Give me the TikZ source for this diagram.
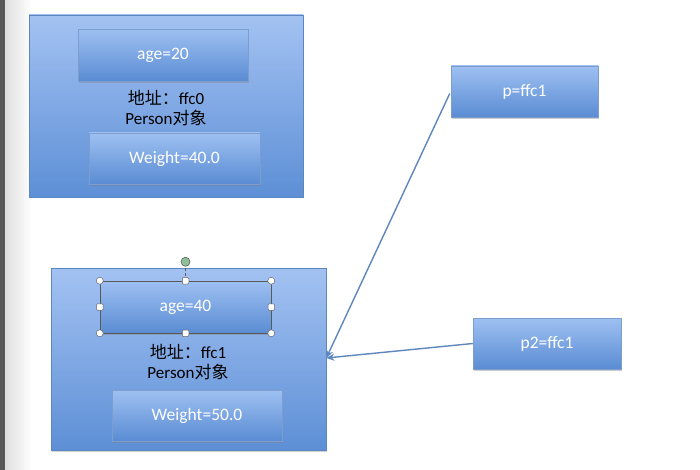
\documentclass[tikz,border=0pt]{standalone}
\usepackage{fontspec}
\setmainfont{Carlito}
\newfontfamily\cjk{Noto Sans CJK SC}
\usetikzlibrary{shadows,arrows.meta}
\definecolor{btop}{HTML}{A3C2F2}
\definecolor{bbot}{HTML}{5D8FD6}
\definecolor{bedge}{HTML}{5C86C0}
\definecolor{ltop}{HTML}{9EC0F2}
\definecolor{lbot}{HTML}{5A8CD3}
\definecolor{arrowc}{HTML}{5E87BE}
\definecolor{grip}{HTML}{8FBF9A}
\tikzset{
  outerbox/.style={draw=bedge, line width=0.6pt, top color=btop, bottom color=bbot, drop shadow={shadow xshift=1pt, shadow yshift=-1.5pt, opacity=0.35}},
  innerbox/.style={draw=bedge!80, line width=0.5pt, top color=ltop, bottom color=lbot, drop shadow={shadow xshift=0.5pt, shadow yshift=-2pt, opacity=0.4}, text=white, font=\fontsize{17.5}{20}\selectfont},
  midtext/.style={align=center, font=\fontsize{17}{20}\selectfont, text=black, inner sep=0pt},
  conn/.style={draw=arrowc, line width=1.4pt, -{Stealth[length=8pt,width=7pt]}},
  handlec/.style={circle, draw=gray!80!black, fill=white, inner sep=0pt, minimum size=7pt, line width=0.5pt},
  handles/.style={rectangle, draw=gray!80!black, fill=white, inner sep=0pt, minimum size=6.5pt, line width=0.5pt, rounded corners=1pt},
}
\begin{document}
\begin{tikzpicture}[x=1pt,y=-1pt]
\useasboundingbox (0,0) rectangle (700,470);
\fill[white] (0,0) rectangle (700,470);
% window edge
\shade[left color=gray!25, right color=white] (5,0) rectangle (32,470);
\fill[gray!70!black] (0,0) rectangle (5,470);
% top object
\node[outerbox, minimum width=274pt, minimum height=182pt, inner sep=0pt] (obj1) at (166,106) {};
\node[innerbox, minimum width=170pt, minimum height=52pt, inner sep=0pt] (age1) at (163,55) {age=20};
\node[midtext] (addr1) at (166,108) {{\cjk 地址：}ffc0\\Person{\cjk 对象}};
\node[innerbox, minimum width=171pt, minimum height=51pt, inner sep=0pt] (w1) at (174.5,158.5) {Weight=40.0};
% bottom object
\node[outerbox, minimum width=275pt, minimum height=182pt, inner sep=0pt] (obj2) at (188.5,359) {};
\node[innerbox, minimum width=171pt, minimum height=52pt, inner sep=0pt] (age2) at (185.5,307) {age=40};
\node[midtext] (addr2) at (188,362) {{\cjk 地址：}ffc1\\Person{\cjk 对象}};
\node[innerbox, minimum width=170pt, minimum height=51pt, inner sep=0pt] (w2) at (197,415.5) {Weight=50.0};
% selection handles
\draw[gray!70!black, line width=0.5pt] (age2.north west) rectangle (age2.south east);
\draw[gray!70!black, densely dashed, line width=0.5pt] (age2.north) -- ++(0,-19) coordinate (gtop);
\node[circle, draw=gray!60!black, fill=grip, inner sep=0pt, minimum size=9pt, line width=0.5pt] (rot) at (gtop) {};
\foreach \a in {north west, north east, south west, south east} \node[handlec] at (age2.\a) {};
\foreach \a in {north, south, west, east} \node[handles] at (age2.\a) {};
% references
\node[innerbox, minimum width=147pt, minimum height=51pt, inner sep=0pt] (p) at (524.5,91.5) {p=ffc1};
\node[innerbox, minimum width=148pt, minimum height=51pt, inner sep=0pt] (p2) at (547,343.5) {p2=ffc1};
\coordinate (tgt) at (obj2.east |- 0,358);
\draw[conn] (p.west) ++(-1,2) -- (tgt);
\draw[conn] (p2.west) -- (tgt);
\end{tikzpicture}
\end{document}
